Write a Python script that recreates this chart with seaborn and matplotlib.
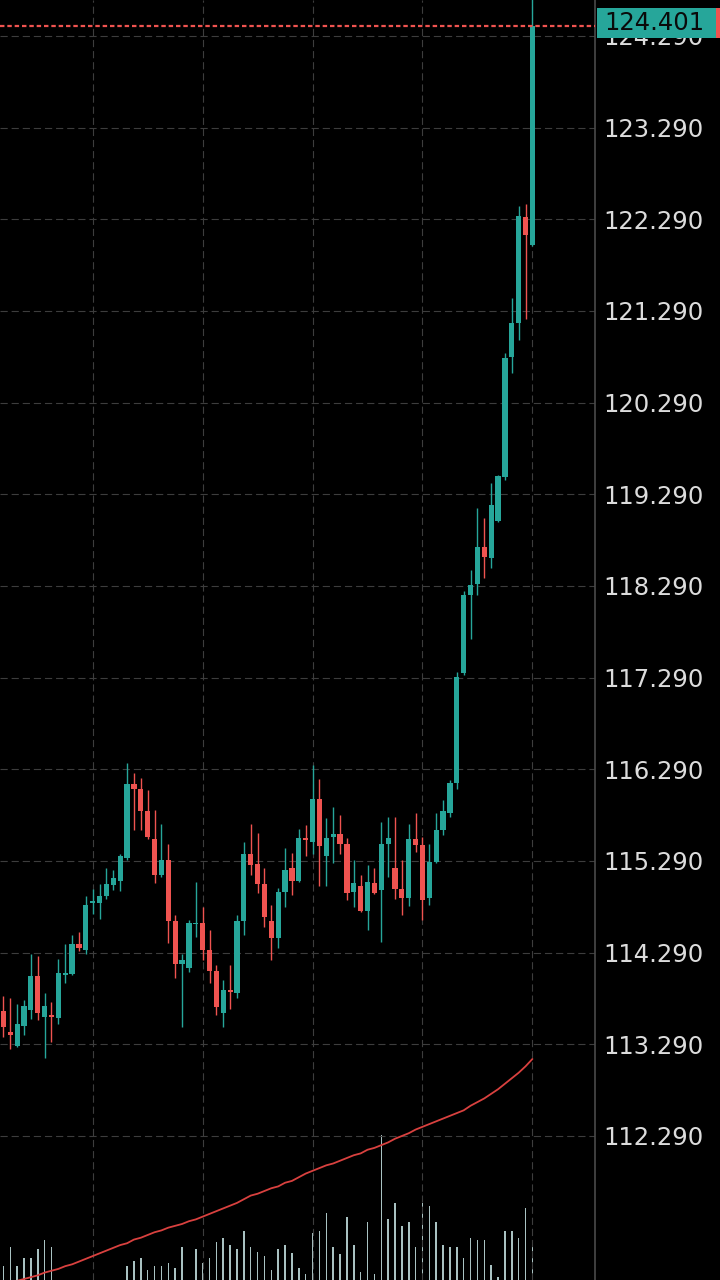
import matplotlib
matplotlib.use("Agg")
import matplotlib.pyplot as plt
import matplotlib.transforms as mtransforms
from matplotlib.patches import Rectangle
import numpy as np
import pandas as pd
import seaborn as sns

# ─── Data ────────────────────────────────────────────────────────────────────
opens = [113.65, 113.42, 113.27, 113.49, 113.66, 114.03, 113.59, 113.61, 113.58, 114.05,
         114.06, 114.38, 114.32, 114.83, 114.83, 114.91, 115.03, 115.07, 115.32, 116.13,
         116.08, 115.83, 115.53, 115.14, 115.30, 114.64, 114.17, 114.12, 114.60, 114.61,
         114.32, 114.09, 113.63, 113.88, 113.85, 114.63, 115.37, 115.26, 115.04, 114.64,
         114.45, 114.95, 115.21, 115.07, 115.53, 115.50, 115.97, 115.34, 115.55, 115.58,
         115.47, 114.95, 115.02, 114.74, 115.05, 114.97, 115.48, 115.21, 114.98, 114.89,
         115.53, 115.46, 114.89, 115.28, 115.63, 115.81, 116.14, 117.34, 118.19, 118.31,
         118.71, 118.60, 119.00, 119.48, 120.79, 121.16, 122.31, 122.01]
highs = [113.82, 113.79, 113.73, 113.77, 114.27, 114.25, 113.85, 113.75, 114.22, 114.38,
         114.48, 114.52, 114.91, 114.98, 115.04, 115.21, 115.19, 115.37, 116.36, 116.25,
         116.19, 116.06, 115.85, 115.69, 115.48, 114.70, 114.28, 114.65, 115.06, 114.79,
         114.54, 114.16, 113.99, 114.16, 114.70, 115.50, 115.69, 115.60, 115.21, 114.81,
         114.99, 115.43, 115.38, 115.64, 115.68, 116.34, 116.18, 115.76, 115.88, 115.79,
         115.54, 115.30, 115.14, 115.25, 115.21, 115.71, 115.77, 115.77, 115.30, 115.69,
         115.81, 115.55, 115.48, 115.81, 115.95, 116.17, 117.35, 118.24, 118.46, 119.14,
         119.03, 119.41, 119.50, 120.83, 121.43, 122.43, 122.46, 124.75]
lows = [113.37, 113.24, 113.26, 113.39, 113.57, 113.56, 113.14, 113.32, 113.51, 113.96,
        114.05, 114.31, 114.28, 114.71, 114.66, 114.88, 114.97, 114.96, 115.30, 115.63,
        115.63, 115.53, 115.05, 115.12, 114.39, 114.01, 113.48, 114.08, 114.46, 114.21,
        113.96, 113.61, 113.48, 113.68, 113.79, 114.48, 115.14, 114.94, 114.57, 114.21,
        114.34, 114.79, 114.92, 115.06, 115.34, 115.37, 115.02, 115.02, 115.27, 115.37,
        114.86, 114.79, 114.73, 114.54, 114.93, 114.41, 115.12, 114.87, 114.70, 114.80,
        115.39, 114.65, 114.81, 115.27, 115.57, 115.77, 116.08, 117.32, 117.71, 118.19,
        118.38, 118.49, 118.99, 119.45, 120.61, 120.97, 121.20, 122.00]
closes = [113.48, 113.39, 113.51, 113.71, 114.03, 113.63, 113.71, 113.59, 114.07, 114.06,
          114.38, 114.34, 114.81, 114.84, 114.91, 115.04, 115.10, 115.34, 116.13, 116.08,
          115.83, 115.55, 115.14, 115.30, 114.64, 114.17, 114.21, 114.61, 114.61, 114.32,
          114.09, 113.70, 113.88, 113.86, 114.64, 115.37, 115.25, 115.04, 114.68, 114.45,
          114.95, 115.19, 115.07, 115.54, 115.52, 115.97, 115.45, 115.54, 115.58, 115.48,
          114.94, 115.05, 114.74, 115.06, 114.94, 115.48, 115.54, 114.98, 114.89, 115.53,
          115.46, 114.86, 115.28, 115.63, 115.83, 116.14, 117.30, 118.19, 118.30, 118.71,
          118.61, 119.17, 119.49, 120.78, 121.16, 122.33, 122.12, 124.401]
volumes = [34, 53, 34, 42, 42, 51, 60, 53, 12, 15,
           9, 14, 17, 11, 13, 16, 10, 18, 34, 39,
           42, 30, 34, 34, 37, 32, 53, 15, 51, 37,
           42, 58, 62, 55, 51, 69, 53, 48, 44, 30,
           51, 55, 47, 32, 26, 67, 69, 87, 53, 46,
           83, 55, 28, 78, 26, 165, 81, 97, 74, 78,
           53, 97, 94, 78, 55, 53, 53, 42, 62, 60,
           60, 35, 23, 69, 69, 62, 92, 55]
ma_line = [110.65, 110.68, 110.71, 110.73, 110.75, 110.77, 110.80, 110.82, 110.84, 110.87,
           110.89, 110.92, 110.95, 110.98, 111.01, 111.04, 111.07, 111.10, 111.12, 111.16,
           111.18, 111.21, 111.24, 111.26, 111.29, 111.31, 111.33, 111.36, 111.38, 111.41,
           111.44, 111.47, 111.50, 111.53, 111.56, 111.60, 111.64, 111.66, 111.69, 111.72,
           111.74, 111.78, 111.80, 111.84, 111.88, 111.91, 111.94, 111.97, 111.99, 112.02,
           112.05, 112.08, 112.10, 112.14, 112.16, 112.19, 112.22, 112.26, 112.29, 112.32,
           112.36, 112.39, 112.42, 112.45, 112.48, 112.51, 112.54, 112.57, 112.62, 112.66,
           112.70, 112.75, 112.80, 112.86, 112.92, 112.98, 113.05, 113.13]
price_ticks = [112.290, 113.290, 114.290, 115.290, 116.290, 117.290, 118.290,
               119.290, 120.290, 121.290, 122.290, 123.290, 124.290]
last_price = 124.401

# ─── Palette ──────────────────────────────────────────────────────────────────
BG = "#000000"
UP = "#26a69a"
DOWN = "#ef5350"
GRID = "#3d3d3d"
TEXT = "#dcdcdc"
VOL = "#a9c2c2"
MA = "#d9413f"

df = pd.DataFrame({"open": opens, "high": highs, "low": lows,
                   "close": closes, "volume": volumes, "ma": ma_line})
df["idx"] = np.arange(len(df))
df["up"] = df["close"] >= df["open"]
colors = np.where(df["up"], UP, DOWN)

sns.set_theme(style="dark")
plt.rcParams["font.family"] = ["DejaVu Sans"]

fig = plt.figure(figsize=(7.2, 12.8), dpi=100)
fig.patch.set_facecolor(BG)
pos = [0, 0, 595 / 720, 1]

# volume pane (behind)
ax_vol = fig.add_axes(pos)
ax_vol.set_facecolor(BG)
ax_vol.bar(df["idx"], df["volume"], width=0.22, color=VOL, linewidth=0)
ax_vol.set_ylim(20, 1300)
ax_vol.axis("off")

# price pane
ax = fig.add_axes(pos, sharex=ax_vol)
ax.patch.set_alpha(0)

ax.set_ylim(110.719, 124.682)
ax.set_xlim(-0.495, 86.11)

# grid
for t in price_ticks:
    ax.axhline(t, color=GRID, lw=0.8, ls=(0, (6.5, 3.5)), zorder=0)
for gx in range(13, 86, 16):
    ax.axvline(gx, color=GRID, lw=0.8, ls=(0, (6.5, 3.5)), zorder=0)
ax.grid(False)

# candles
ax.vlines(df["idx"], df["low"], df["high"], colors=colors, lw=1.0, zorder=2)
body = np.maximum((df["close"] - df["open"]).abs(), 0.018)
ax.bar(df["idx"], body, bottom=np.minimum(df["open"], df["close"]),
       width=0.76, color=colors, linewidth=0, zorder=3)

# moving average
sns.lineplot(data=df, x="idx", y="ma", ax=ax, color=MA, lw=1.3, zorder=4)

# last price line
ax.axhline(last_price, color=DOWN, lw=1.6, ls=(0, (2, 1.3)), zorder=5)

# axis styling
ax.yaxis.tick_right()
ax.set_yticks(price_ticks)
ax.set_yticklabels([f"{t:.3f}" for t in price_ticks])
ax.tick_params(axis="y", colors=TEXT, labelsize=17.5, length=0, pad=6)
ax.tick_params(axis="x", length=0, labelbottom=False)
ax.set_xlabel("")
ax.set_ylabel("")
for side in ["top", "left", "bottom"]:
    ax.spines[side].set_visible(False)
ax.spines["right"].set_color("#4a4a4a")
ax.spines["right"].set_linewidth(1.2)

# last price tag (sits over the 124.290 label, as in the app)
trans = mtransforms.blended_transform_factory(ax.transAxes, ax.transData)
ax.add_patch(Rectangle((1.0034, last_price - 0.135), 0.200, 0.33, transform=trans,
                       facecolor=UP, edgecolor="none", clip_on=False, zorder=10))
ax.add_patch(Rectangle((1.2034, last_price - 0.135), 0.008, 0.33, transform=trans,
                       facecolor=DOWN, edgecolor="none", clip_on=False, zorder=10))
ax.text(1.0151, last_price + 0.03, f"{last_price:.3f}", transform=trans,
        ha="left", va="center", fontsize=17.5, color="#0a0a0a", zorder=11, clip_on=False)

fig.savefig("out.png", dpi=100, facecolor=BG)
